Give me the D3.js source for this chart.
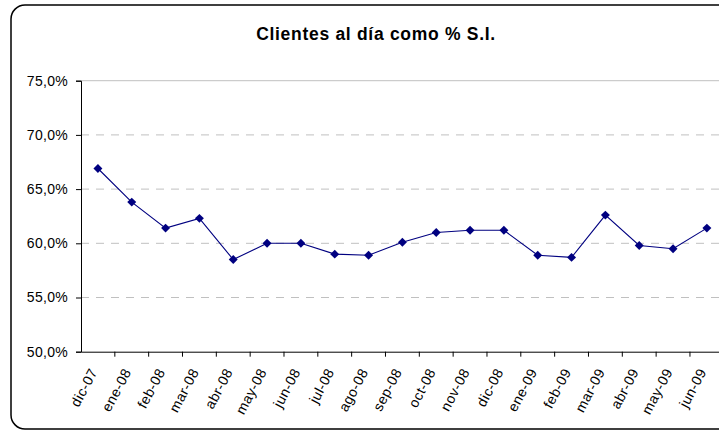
<!DOCTYPE html>
<html>
<head>
<meta charset="utf-8">
<script src="https://cdn.jsdelivr.net/npm/d3@7/dist/d3.min.js"></script>
<style>
  html, body { margin: 0; padding: 0; background: #fff; }
  svg { display: block; }
  text { font-family: "Liberation Sans", Arial, sans-serif; }
</style>
</head>
<body>
<svg id="chart" width="719" height="431"></svg>
<script>
const title = "Clientes al día como % S.I.";
const categories = ["dic-07","ene-08","feb-08","mar-08","abr-08","may-08","jun-08","jul-08","ago-08","sep-08","oct-08","nov-08","dic-08","ene-09","feb-09","mar-09","abr-09","may-09","jun-09"];
const values = [66.9, 63.8, 61.4, 62.3, 58.5, 60.0, 60.0, 59.0, 58.9, 60.1, 61.0, 61.2, 61.2, 58.9, 58.7, 62.6, 59.8, 59.5, 61.4];
const yTicks = [50, 55, 60, 65, 70, 75];

(function () {
const svg = d3.select("#chart");

// outer frame
svg.append("rect")
  .attr("x", 11).attr("y", 5)
  .attr("width", 740).attr("height", 424)
  .attr("rx", 14).attr("ry", 14)
  .attr("fill", "#fff").attr("stroke", "#000").attr("stroke-width", 1.5);

const pLeft = 81, pRight = 723.8, pTop = 80.7, pBottom = 351.7;

const x = d3.scaleBand().domain(categories).range([pLeft, pRight]).padding(0);
const y = d3.scaleLinear().domain([50, 75]).range([pBottom, pTop]);

// title
svg.append("text")
  .attr("x", 376).attr("y", 40)
  .attr("text-anchor", "middle")
  .attr("font-size", 17.5).attr("font-weight", "bold")
  .attr("letter-spacing", 0.7)
  .attr("fill", "#000")
  .text(title);

// gridlines
svg.append("g").selectAll("line")
  .data(yTicks.filter(d => d > 50))
  .join("line")
  .attr("x1", pLeft).attr("x2", pRight)
  .attr("y1", d => y(d)).attr("y2", d => y(d))
  .attr("stroke", "#c0c0c0").attr("stroke-width", 1)
  .attr("stroke-dasharray", d => d === 75 ? null : "8,7");

// y axis
const fmt = d => d.toFixed(1).replace(".", ",") + "%";
const yAxis = d3.axisLeft(y).tickValues(yTicks).tickSize(5).tickPadding(8).tickFormat(fmt);
const gy = svg.append("g").attr("transform", `translate(${pLeft},0)`).call(yAxis);
gy.select(".domain").attr("stroke", "#000");
gy.selectAll(".tick line").attr("stroke", "#000");
gy.selectAll(".tick text").attr("font-size", 14).attr("fill", "#000")
  .attr("letter-spacing", 0.3)
  .attr("font-family", "Liberation Sans, Arial, sans-serif");

// x axis
const xAxis = d3.axisBottom(x).tickSize(0).tickFormat(d => d);
const gx = svg.append("g").attr("transform", `translate(0,${pBottom})`).call(xAxis);
gx.select(".domain").attr("stroke", "#000");
gx.selectAll(".tick text")
  .attr("font-size", 14).attr("fill", "#000")
  .attr("letter-spacing", 0.5)
  .attr("font-family", "Liberation Sans, Arial, sans-serif")
  .attr("text-anchor", "end")
  .attr("dy", null).attr("y", 0)
  .attr("transform", "translate(0,20) rotate(-62)");
// tick marks between categories
gx.append("g").selectAll("line")
  .data(categories.slice(1))
  .join("line")
  .attr("x1", d => x(d)).attr("x2", d => x(d))
  .attr("y1", 0).attr("y2", 5)
  .attr("stroke", "#000");

// line
const line = d3.line()
  .x((d, i) => x(categories[i]) + x.bandwidth() / 2)
  .y(d => y(d));
svg.append("path")
  .datum(values)
  .attr("d", line)
  .attr("fill", "none")
  .attr("stroke", "#000080")
  .attr("stroke-width", 1.1);

// markers (square diamonds)
const diamond = d3.symbol().type(d3.symbolSquare).size(40);
svg.append("g").selectAll("path")
  .data(values)
  .join("path")
  .attr("d", diamond)
  .attr("transform", (d, i) => `translate(${x(categories[i]) + x.bandwidth() / 2},${y(d)}) rotate(45)`)
  .attr("fill", "#000080");
})();
</script>
</body>
</html>
